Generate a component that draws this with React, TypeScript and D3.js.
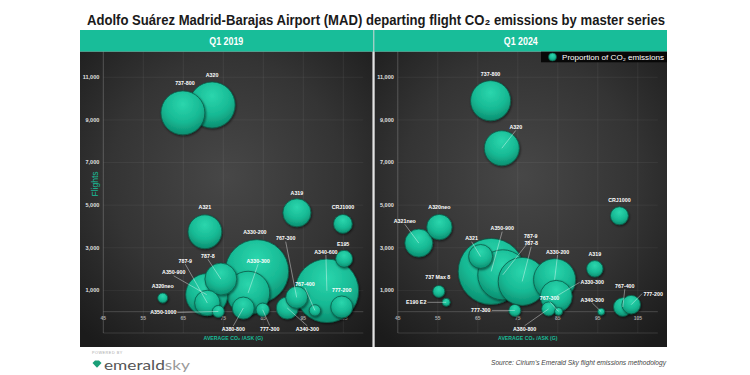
import React from 'react';
import * as d3 from 'd3';

const W = 750;
const H = 375;
const TEAL = '#18bd99';

// ---- Q1 2019 ----
const aircraft2019 = ['737-800', 'A320', 'A319', 'CRJ1000', 'A321', 'E195', 'A330-200', 'A340-600', '777-200', '767-400', 'A340-300', '767-300', '777-300', 'A380-800', 'A330-300', '787-8', '787-9', 'A350-900', 'A350-1000', 'A320neo'];
const co2Ask2019 = [64.9, 72.2, 93.4, 104.9, 70.4, 105.2, 83.4, 100.9, 104.6, 97.9, 91.0, 93.35, 84.85, 80.0, 81.2, 74.4, 71.0, 70.85, 73.75, 59.85];
const flights2019 = [9330, 9700, 4640, 4120, 3750, 2480, 1890, 980, 220, 60, 170, 670, 90, 170, 880, 1530, 410, 800, 10, 640];
const share2019 = [7.1, 7.8, 2.9, 1.3, 4.2, 1.06, 14.8, 14.8, 1.78, 0.48, 1.78, 1.78, 0.66, 1.78, 6.9, 3.76, 2.37, 6.5, 0.53, 0.37];

// ---- Q1 2024 ----
const aircraft2024 = ['737-800', 'A320', 'CRJ1000', 'A320neo', 'A321neo', 'A321', 'A350-900', '787-9', '787-8', 'A330-200', 'A330-300', '767-300', 'A380-800', '777-300', '737 Max 8', 'E190 E2', 'A319', 'A340-300', '767-400', '777-200'];
const co2Ask2024 = [68.2, 71.0, 100.4, 55.4, 50.25, 65.7, 68.35, 71.25, 76.1, 84.2, 84.6, 85.2, 82.7, 74.25, 55.25, 57.1, 94.25, 95.85, 101.25, 103.35];
const flights2024 = [9900, 7670, 4500, 3970, 3220, 2590, 1890, 1730, 1420, 1500, 720, 10, 130, 60, 950, 440, 2010, 0, 220, 330];
const share2024 = [5.9, 4.5, 1.19, 2.37, 2.88, 2.12, 16.0, 9.2, 8.46, 6.5, 3.76, 0.235, 0.72, 0.53, 0.53, 0.235, 1.0, 0.18, 1.27, 1.27];

const xTicks = [45, 55, 65, 75, 85, 95, 105];
const yTicks = [1000, 3000, 5000, 7000, 9000, 11000];
const periods = ['Q1 2019', 'Q1 2024'];

// label placement (pixel offsets from bubble centre) and which labels use leader lines
const labelOffsets2019: Record<string, [number, number]> = {
  '737-800': [2, -30], 'A320': [0, -30], 'A319': [0, -20], 'CRJ1000': [0, -17], 'A321': [0, -25],
  'E195': [-1, -15], 'A330-200': [-2, -39], 'A340-600': [-1, -39], '777-200': [0, -17], '767-400': [-10, -26],
  'A340-300': [20, 21], '767-300': [-11, -59], '777-300': [7, 19], 'A380-800': [-10, 21], 'A330-300': [10, -32],
  '787-8': [-13, -23], '787-9': [-22, -42], 'A350-900': [-33, -22], 'A350-1000': [-55, 1], 'A320neo': [0, -12],
};
const leaders2019 = ['A340-600', '767-400', 'A340-300', '767-300', '777-300', 'A380-800', 'A330-300', '787-8', '787-9', 'A350-900', 'A350-1000'];

const labelOffsets2024: Record<string, [number, number]> = {
  '737-800': [0, -27], 'A320': [14, -21], 'CRJ1000': [0, -16], 'A320neo': [0, -20], 'A321neo': [-14, -22],
  'A321': [-9, -18], 'A350-900': [11, -43], '787-9': [28, -39], '787-8': [9, -38], 'A330-200': [3, -28],
  'A330-300': [36, -14], '767-300': [-9, -13], 'A380-800': [-24, 20], '777-300': [-34, 0], '737 Max 8': [-1, -14],
  'E190 E2': [-30, 0], 'A319': [0, -15], 'A340-300': [-9, -12], '767-400': [2, -21], '777-200': [22, -11],
};
const leaders2024 = ['A320', 'A321neo', 'A321', 'A350-900', '787-9', '787-8', 'A330-200', 'A330-300', '767-300', 'A380-800', '777-300', 'E190 E2', 'A340-300', '767-400', '777-200'];

const PANEL_TOP = 51.7;
const PANEL_BOTTOM = 347;
const PANEL_W = 292.5;
const panelX = [80, 374.5];

const x = d3.scaleLinear().domain([45, 110]).range([23.3, 283.3]);
const y = d3.scaleLinear().domain([-1000, 12200]).range([333, PANEL_TOP]);
const r = d3.scaleSqrt().domain([0, 16]).range([0, 33]);
const fmt = d3.format(',');

type Datum = { name: string; v: number; f: number; s: number };

function Panel({ idx, data, offsets, leaders }: { idx: number; data: Datum[]; offsets: Record<string, [number, number]>; leaders: string[] }) {
  const x0 = panelX[idx];
  const sorted = [...data].sort((a, b) => b.s - a.s);
  const font = 'Liberation Sans, Arial, sans-serif';
  return (
    <g transform={`translate(${x0},0)`}>
      <rect x={0} y={PANEL_TOP} width={PANEL_W} height={PANEL_BOTTOM - PANEL_TOP} fill="url(#panelBg)" />
      {xTicks.map((t) => (
        <line key={'vx' + t} x1={x(t)} x2={x(t)} y1={PANEL_TOP} y2={333} stroke={t === 45 ? 'rgba(255,255,255,0.35)' : 'rgba(255,255,255,0.1)'} strokeWidth={0.6} />
      ))}
      {yTicks.map((t) => (
        <line key={'hy' + t} x1={x(45)} x2={x(110)} y1={y(t)} y2={y(t)} stroke="rgba(255,255,255,0.09)" strokeWidth={0.6} />
      ))}
      <line x1={x(45)} x2={x(110)} y1={y(0)} y2={y(0)} stroke="rgba(255,255,255,0.3)" strokeWidth={0.6} />
      <line x1={x(45)} x2={x(110)} y1={y(-1000)} y2={y(-1000)} stroke="rgba(255,255,255,0.22)" strokeWidth={0.6} />
      {yTicks.map((t) => (
        <text key={'yl' + t} x={x(45) - 4} y={y(t)} dy="0.35em" textAnchor="end" fontSize={5.5} fontWeight="bold" fill="#e0e0e0" fontFamily={font}>{fmt(t)}</text>
      ))}
      {xTicks.map((t) => (
        <text key={'xl' + t} x={x(t)} y={y(0) + 7} dy="0.35em" textAnchor="middle" fontSize={5} fontWeight="bold" fill="#aaa" fontFamily={font}>{t}</text>
      ))}
      {idx === 0 && (
        <text transform={`translate(${x(45) - 5},184) rotate(-90)`} textAnchor="middle" fontSize={8.5} fill={TEAL} fontFamily={font}>Flights</text>
      )}
      <text x={(x(45) + x(110)) / 2} y={339.5} textAnchor="middle" fontSize={5.2} fontWeight="bold" fill={TEAL} fontFamily={font}>
        AVERAGE CO₂ /ASK (G)
      </text>
      {sorted.map((d) => (
        <circle key={d.name} cx={x(d.v)} cy={y(d.f)} r={r(d.s)} fill="url(#bubbleGrad)" stroke="#0a5a47" strokeWidth={0.8} filter="url(#shadow)" />
      ))}
      {data.filter((d) => leaders.includes(d.name)).map((d) => {
        const [dx, dy] = offsets[d.name];
        const cx = x(d.v), cy = y(d.f);
        const lx = cx + dx, ly = cy + dy;
        const w = d.name.length * 2.9;
        let sx = lx, sy = ly;
        if (Math.abs(dx) > Math.abs(dy) * 1.5) {
          sx = lx + Math.sign(-dx) * (w / 2 + 1);
        } else {
          sy = ly + (dy < 0 ? 3.2 : -3.2);
        }
        return <line key={'ld' + d.name} x1={sx} y1={sy} x2={cx} y2={cy} stroke="rgba(255,255,255,0.8)" strokeWidth={0.5} />;
      })}
      {data.map((d) => {
        const [dx, dy] = offsets[d.name];
        return (
          <text key={'lb' + d.name} x={x(d.v) + dx} y={y(d.f) + dy} dy="0.35em" textAnchor="middle" fontSize={5.3} fontWeight="bold" fill="#fff" fontFamily={font}>{d.name}</text>
        );
      })}
    </g>
  );
}

export default function App() {
  const d2019: Datum[] = aircraft2019.map((n, i) => ({ name: n, v: co2Ask2019[i], f: flights2019[i], s: share2019[i] }));
  const d2024: Datum[] = aircraft2024.map((n, i) => ({ name: n, v: co2Ask2024[i], f: flights2024[i], s: share2024[i] }));
  const font = 'Liberation Sans, Arial, sans-serif';
  return (
    <svg width={W} height={H} style={{ position: 'absolute', left: 0, top: 0, background: '#fff' }}>
      <defs>
        <radialGradient id="panelBg" cx="50%" cy="42%" r="72%">
          <stop offset="0%" stopColor="#474747" />
          <stop offset="55%" stopColor="#343434" />
          <stop offset="100%" stopColor="#1b1b1b" />
        </radialGradient>
        <radialGradient id="bubbleGrad" cx="50%" cy="30%" r="70%">
          <stop offset="0%" stopColor="#2bd6ad" />
          <stop offset="60%" stopColor="#17b994" />
          <stop offset="100%" stopColor="#0c8e70" />
        </radialGradient>
        <filter id="shadow" x="-30%" y="-30%" width="160%" height="160%">
          <feDropShadow dx="0.8" dy="1.2" stdDeviation="1.2" floodColor="#000" floodOpacity="0.55" />
        </filter>
      </defs>
      <text x={376} y={24.5} textAnchor="middle" fontSize={15} fontWeight="bold" fill="#1a1a1a" fontFamily={font} textLength={578} lengthAdjust="spacingAndGlyphs">
        Adolfo Suárez Madrid-Barajas Airport (MAD) departing flight CO₂ emissions by master series
      </text>
      <rect x={80} y={30} width={587} height={PANEL_TOP - 30} fill={TEAL} />
      {periods.map((p, i) => (
        <text key={p} x={panelX[i] + PANEL_W / 2} y={44.5} textAnchor="middle" fontSize={10.5} fontWeight="bold" fill="#fff" fontFamily={font} textLength={34} lengthAdjust="spacingAndGlyphs">{p}</text>
      ))}
      <Panel idx={0} data={d2019} offsets={labelOffsets2019} leaders={leaders2019} />
      <Panel idx={1} data={d2024} offsets={labelOffsets2024} leaders={leaders2024} />
      <line x1={373.8} x2={373.8} y1={30} y2={PANEL_BOTTOM} stroke="#d8d8d8" strokeWidth={1} />
      <rect x={541} y={PANEL_TOP} width={126} height={10.6} fill="#080808" />
      <circle cx={552.5} cy={57} r={4} fill="url(#bubbleGrad)" stroke="#0a5a47" strokeWidth={0.6} />
      <text x={562} y={59.6} fontSize={7} fill="#fff" fontFamily={font} textLength={102} lengthAdjust="spacingAndGlyphs">
        Proportion of CO₂ emissions
      </text>
      <text x={92} y={353.5} fontSize={3.8} fill="#aaa" letterSpacing={0.5} fontFamily={font}>POWERED BY</text>
      <path d="M92.5,363 l2.5,-2.5 h4 l2.5,2.5 l-4.5,4.8 z" fill="#1a9f78" />
      <text x={104} y={369.5} fontSize={14} fontFamily="Lato, Open Sans, sans-serif" fill="#555" textLength={86} lengthAdjust="spacingAndGlyphs">
        emerald<tspan fill="#9a9a9a">sky</tspan>
      </text>
      <text x={666} y={365} textAnchor="end" fontSize={7} fontStyle="italic" fill="#444" fontFamily={font} textLength={175} lengthAdjust="spacingAndGlyphs">
        Source: Cirium's Emerald Sky flight emissions methodology
      </text>
    </svg>
  );
}
